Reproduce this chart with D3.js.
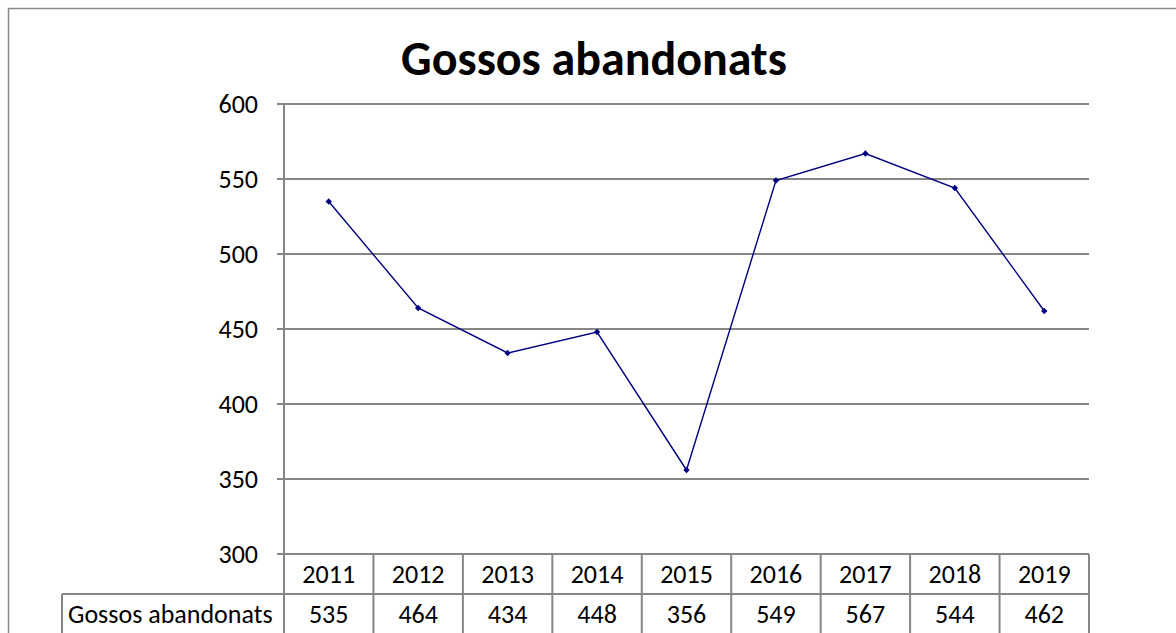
<!DOCTYPE html>
<html><head><meta charset="utf-8">
<script src="https://cdn.jsdelivr.net/npm/d3@7"></script>
<style>html,body{margin:0;padding:0;background:#fff;overflow:hidden}</style>
</head><body>
<svg id="c" width="1176" height="633"></svg>
<script>
const title = "Gossos abandonats";
const seriesName = "Gossos abandonats";
const years = ["2011","2012","2013","2014","2015","2016","2017","2018","2019"];
const values = [535,464,434,448,356,549,567,544,462];
const yTicks = [300,350,400,450,500,550,600];

const svg = d3.select("#c");
const FONT = "Carlito, Lato, 'Open Sans', sans-serif";
const grid = "#868686";
const L = 284, R = 1089, T = 104, B = 554, rowH = 40, tableLeft = 62;

const x = d3.scaleBand().domain(years).range([L, R]);
const y = d3.scaleLinear().domain([300, 600]).range([B, T]);

// outer border
svg.append("rect").attr("x", 8.5).attr("y", 8.5).attr("width", 1200).attr("height", 700)
  .attr("fill", "none").attr("stroke", "#8a8a8a").attr("stroke-width", 1.5);

// title
svg.append("text").attr("x", 594).attr("y", 75).attr("text-anchor", "middle")
  .attr("font-family", FONT).attr("font-weight", "bold").attr("font-size", 48)
  .attr("fill", "#000").text(title);

// gridlines + ticks
svg.append("g").selectAll("line").data(yTicks).join("line")
  .attr("x1", L - 7).attr("x2", R).attr("y1", d => y(d)).attr("y2", d => y(d))
  .attr("stroke", grid).attr("stroke-width", 2);

svg.append("g").selectAll("text").data(yTicks).join("text")
  .attr("x", 258).attr("y", d => y(d)).attr("dy", "0.35em").attr("text-anchor", "end")
  .attr("font-family", FONT).attr("font-size", 26).attr("fill", "#000").text(d => d);

// y axis line (extends into table)
svg.append("line").attr("x1", L).attr("x2", L).attr("y1", T).attr("y2", 640)
  .attr("stroke", grid).attr("stroke-width", 2);

// table
const tg = svg.append("g");
const bounds = years.map(d => x(d)).concat([R]);
tg.selectAll("line.v").data(bounds).join("line").attr("class", "v")
  .attr("x1", d => d).attr("x2", d => d).attr("y1", B).attr("y2", 640)
  .attr("stroke", grid).attr("stroke-width", 2);
tg.append("line").attr("x1", tableLeft).attr("x2", R).attr("y1", B + rowH).attr("y2", B + rowH)
  .attr("stroke", grid).attr("stroke-width", 2);
tg.append("line").attr("x1", tableLeft).attr("x2", tableLeft).attr("y1", B + rowH).attr("y2", 640)
  .attr("stroke", grid).attr("stroke-width", 2);

tg.selectAll("text.yr").data(years).join("text").attr("class", "yr")
  .attr("x", d => x(d) + x.bandwidth() / 2).attr("y", B + rowH / 2).attr("dy", "0.36em")
  .attr("text-anchor", "middle").attr("font-family", FONT).attr("font-size", 26).text(d => d);
tg.selectAll("text.val").data(values).join("text").attr("class", "val")
  .attr("x", (d, i) => x(years[i]) + x.bandwidth() / 2).attr("y", B + rowH * 1.5).attr("dy", "0.36em")
  .attr("text-anchor", "middle").attr("font-family", FONT).attr("font-size", 26).text(d => d);
tg.append("text").attr("x", 68).attr("y", B + rowH * 1.5).attr("dy", "0.36em")
  .attr("font-family", FONT).attr("font-size", 26).text(seriesName);

// line
const pts = years.map((d, i) => [x(d) + x.bandwidth() / 2, y(values[i])]);
svg.append("path").attr("d", d3.line()(pts)).attr("fill", "none")
  .attr("stroke", "#000080").attr("stroke-width", 1.4);
svg.append("g").selectAll("path").data(pts).join("path")
  .attr("transform", d => `translate(${d[0]},${d[1]})`)
  .attr("d", d3.symbol(d3.symbolDiamond2, 26))
  .attr("fill", "#000080");
</script>
</body></html>
